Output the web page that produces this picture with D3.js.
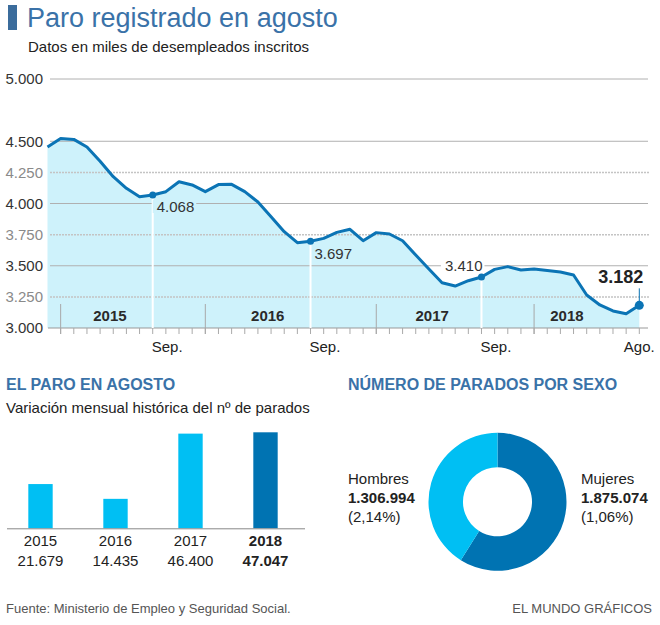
<!DOCTYPE html>
<html>
<head>
<meta charset="utf-8">
<script src="https://cdn.jsdelivr.net/npm/d3@7"></script>
<style>
  body { margin: 0; background: #fff; }
  svg { display: block; font-family: 'Liberation Sans', Arial, sans-serif; }
</style>
</head>
<body>
<div id="chart"></div>
<script>
// Paro registrado: miles de parados, dic. 2014 -> ago. 2018
const paro = [
  4454, 4523, 4515, 4454, 4340, 4215, 4122, 4055, 4068, 4095,
  4175, 4149, 4095, 4152, 4154, 4095, 4012, 3894, 3774, 3685,
  3697, 3720, 3768, 3793, 3701, 3766, 3755, 3701, 3586, 3474,
  3364, 3337, 3380, 3410, 3471, 3493, 3466, 3474, 3462, 3450,
  3426, 3265, 3185, 3137, 3114, 3182
];
const yTicks = [3000, 3250, 3500, 3750, 4000, 4250, 4500, 5000];
const yMinor = [3250, 3750, 4250];
const destacados = [8, 20, 33, 45];
const etiquetasMes = ['Sep.', 'Sep.', 'Sep.', 'Ago.'];
const years = ['2015', '2016', '2017', '2018'];
const yearStart = [1, 12, 25, 37];

// El paro en agosto
const anios = ['2015', '2016', '2017', '2018'];
const variacion = [21679, 14435, 46400, 47047];

// Por sexo
const sexo = ['Mujeres', 'Hombres'];
const parados = [1875074, 1306994];
const variacionSexo = ['(1,06%)', '(2,14%)'];

const es = d3.formatLocale({ decimal: ',', thousands: '.', grouping: [3], currency: ['', '€'] });
const fmt = es.format(',d');
const fmt3 = d => es.format(',.3f')(d / 1000).replace(',', '.');

const BLUE_T = '#3a72a8';
const LINE = '#0b74b5';
const AREA = '#cef2fb';
const LIGHT = '#00bff3';
const DARK = '#0073b2';

const W = 660, H = 625;
const svg = d3.select('#chart').append('svg').attr('width', W).attr('height', H);

// ---- cabecera
svg.append('rect').attr('x', 8).attr('y', 5).attr('width', 9).attr('height', 25).attr('fill', '#3b6c9c');
svg.append('text').attr('x', 27).attr('y', 27).attr('font-size', '27px').attr('fill', BLUE_T)
  .text('Paro registrado en agosto');
svg.append('text').attr('x', 28).attr('y', 52).attr('font-size', '15px').attr('fill', '#222')
  .text('Datos en miles de desempleados inscritos');

// ---- grafico de lineas
const x = d3.scaleLinear().domain([0, paro.length - 1]).range([47.5, 639.3]);
const y = d3.scaleLinear().domain([3000, 5000]).range([328, 79]);
const lg = svg.append('g');

lg.append('path').datum(paro)
  .attr('fill', AREA)
  .attr('d', d3.area().x((d, i) => x(i)).y0(y(3000)).y1(d => y(d)));

// rejilla
lg.selectAll('.grid').data(yTicks.filter(t => t > 3000))
  .join('line')
  .attr('x1', 50).attr('x2', d => yMinor.includes(d) ? 650 : 648)
  .attr('y1', d => y(d)).attr('y2', d => y(d))
  .attr('stroke', d => yMinor.includes(d) ? '#c4c4c4' : '#b0b0b0')
  .attr('stroke-width', d => yMinor.includes(d) ? 1.5 : 1)
  .attr('stroke-dasharray', d => yMinor.includes(d) ? '2,1' : null);

lg.selectAll('.ylab').data(yTicks)
  .join('text')
  .attr('x', 43).attr('y', d => y(d)).attr('dy', '0.36em')
  .attr('text-anchor', 'end').attr('font-size', '15px')
  .attr('fill', d => yMinor.includes(d) ? '#8a8a8a' : '#333')
  .text(d => fmt(d));

// eje x
lg.append('line').attr('x1', 48).attr('x2', 648).attr('y1', y(3000)).attr('y2', y(3000))
  .attr('stroke', '#999').attr('stroke-width', 1);
lg.selectAll('.mtick').data(d3.range(1, paro.length))
  .join('line')
  .attr('x1', d => x(d)).attr('x2', d => x(d))
  .attr('y1', y(3000)).attr('y2', y(3000) + 6)
  .attr('stroke', '#aaa');
lg.selectAll('.ytick').data(yearStart)
  .join('line')
  .attr('x1', d => x(d)).attr('x2', d => x(d))
  .attr('y1', 304).attr('y2', y(3000) + 6)
  .attr('stroke', '#a8a8a8');
lg.selectAll('.year').data(years)
  .join('text')
  .attr('x', (d, i) => {
    const a = x(yearStart[i]);
    const b = x(i < years.length - 1 ? yearStart[i + 1] : paro.length - 0.5);
    return (a + b) / 2 - 23;
  })
  .attr('y', 321).attr('text-anchor', 'middle')
  .attr('font-size', '15px').attr('font-weight', 700).attr('fill', '#2a2a2a')
  .text(d => d);

// lineas blancas de los puntos destacados
lg.selectAll('.vline').data(destacados.slice(0, 3))
  .join('line')
  .attr('x1', d => x(d)).attr('x2', d => x(d))
  .attr('y1', d => y(paro[d])).attr('y2', y(3000))
  .attr('stroke', '#fff').attr('stroke-width', 2);

// etiquetas de los puntos
const labPos = [
  { dx: 4, dy: 17, anchor: 'start', box: AREA },
  { dx: 4, dy: 18, anchor: 'start', box: null },
  { dx: 1, dy: -6, anchor: 'end', box: '#fff' },
  { dx: 4, dy: -22, anchor: 'end', box: null }
];
destacados.forEach((d, i) => {
  const p = labPos[i];
  const last = i === destacados.length - 1;
  const t = lg.append('text')
    .attr('x', x(d) + p.dx).attr('y', y(paro[d]) + p.dy)
    .attr('text-anchor', p.anchor)
    .attr('font-size', last ? '18px' : '15px')
    .attr('font-weight', last ? 700 : 400)
    .attr('fill', last ? '#222' : '#333')
    .text(fmt3(paro[d]));
  if (p.box) {
    const bb = t.node().getBBox();
    lg.insert('rect', () => t.node())
      .attr('x', bb.x - 4).attr('y', bb.y + 2).attr('width', bb.width + 6).attr('height', bb.height - 4)
      .attr('fill', p.box);
  }
});

lg.append('path').datum(paro)
  .attr('fill', 'none').attr('stroke', LINE).attr('stroke-width', 3)
  .attr('stroke-linejoin', 'round')
  .attr('d', d3.line().x((d, i) => x(i)).y(d => y(d)));

const ultimo = destacados[destacados.length - 1];
lg.append('line')
  .attr('x1', x(ultimo)).attr('x2', x(ultimo))
  .attr('y1', y(paro[ultimo]) - 17).attr('y2', y(paro[ultimo]))
  .attr('stroke', LINE).attr('stroke-width', 1);

lg.selectAll('.pt').data(destacados)
  .join('circle')
  .attr('cx', d => x(d)).attr('cy', d => y(paro[d]))
  .attr('r', (d, i) => i === destacados.length - 1 ? 4.5 : 3.5)
  .attr('fill', LINE);

lg.selectAll('.mes').data(destacados)
  .join('text')
  .attr('x', (d, i) => i === destacados.length - 1 ? x(d) : x(d) - 1)
  .attr('y', 352)
  .attr('text-anchor', (d, i) => i === destacados.length - 1 ? 'middle' : 'start')
  .attr('font-size', '15px').attr('fill', '#222')
  .text((d, i) => etiquetasMes[i]);

// ---- El paro en agosto (barras)
svg.append('text').attr('x', 6).attr('y', 390).attr('font-size', '16px').attr('font-weight', 700)
  .attr('fill', BLUE_T).text('EL PARO EN AGOSTO');
svg.append('text').attr('x', 6).attr('y', 413).attr('font-size', '15px').attr('fill', '#222')
  .text('Variación mensual histórica del nº de parados');

const xb = d3.scaleBand().domain(anios).range([3, 303]).paddingInner(0.675).paddingOuter(0.3375);
const yb = d3.scaleLinear().domain([0, 47047]).range([528.3, 432.3]);
const bg = svg.append('g');
bg.selectAll('rect').data(variacion)
  .join('rect')
  .attr('x', (d, i) => xb(anios[i])).attr('width', xb.bandwidth())
  .attr('y', d => yb(d)).attr('height', d => yb(0) - yb(d))
  .attr('fill', (d, i) => i === anios.length - 1 ? DARK : LIGHT);
bg.append('line').attr('x1', 7).attr('x2', 305).attr('y1', yb(0) + 0.5).attr('y2', yb(0) + 0.5)
  .attr('stroke', '#888').attr('stroke-width', 1);
bg.selectAll('.an').data(anios)
  .join('text')
  .attr('x', d => xb(d) + xb.bandwidth() / 2).attr('y', 546)
  .attr('text-anchor', 'middle').attr('font-size', '15px')
  .attr('font-weight', (d, i) => i === anios.length - 1 ? 700 : 400)
  .attr('fill', '#222').text(d => d);
bg.selectAll('.val').data(variacion)
  .join('text')
  .attr('x', (d, i) => xb(anios[i]) + xb.bandwidth() / 2).attr('y', 565.5)
  .attr('text-anchor', 'middle').attr('font-size', '15px')
  .attr('font-weight', (d, i) => i === anios.length - 1 ? 700 : 400)
  .attr('fill', '#222').text(d => fmt(d));

// ---- Por sexo (donut)
svg.append('text').attr('x', 348).attr('y', 390).attr('font-size', '16px').attr('font-weight', 700)
  .attr('fill', BLUE_T).text('NÚMERO DE PARADOS POR SEXO');

const pie = d3.pie().sort(null).value(d => d);
const arc = d3.arc().innerRadius(34.5).outerRadius(69);
const dg = svg.append('g').attr('transform', 'translate(497.5,501.8)');
dg.selectAll('path').data(pie(parados))
  .join('path')
  .attr('d', arc)
  .attr('fill', (d, i) => i === 0 ? DARK : LIGHT);

const sx = { Hombres: 348, Mujeres: 581 };
sexo.forEach((s, i) => {
  const g = svg.append('g').attr('transform', `translate(${sx[s]},0)`);
  g.append('text').attr('y', 484).attr('font-size', '15px').attr('fill', '#222').text(s);
  g.append('text').attr('y', 503).attr('font-size', '15px').attr('font-weight', 700).attr('fill', '#222')
    .text(fmt(parados[i]));
  g.append('text').attr('y', 522).attr('font-size', '15px').attr('fill', '#222').text(variacionSexo[i]);
});

// ---- pie
svg.append('text').attr('x', 6).attr('y', 613).attr('font-size', '13px').attr('fill', '#555')
  .text('Fuente: Ministerio de Empleo y Seguridad Social.');
svg.append('text').attr('x', 652).attr('y', 613).attr('text-anchor', 'end').attr('font-size', '13px')
  .attr('fill', '#555').text('EL MUNDO GRÁFICOS');
</script>
</body>
</html>
